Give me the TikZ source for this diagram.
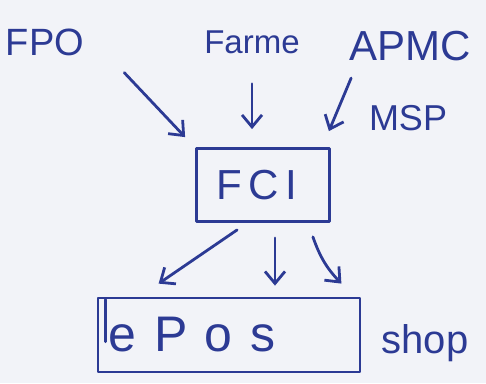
\documentclass[tikz,border=0pt]{standalone}
\usepackage{fontspec}
\setmainfont{Liberation Sans}
\usetikzlibrary{arrows.meta}
\definecolor{ink}{HTML}{2C3A94}
\definecolor{paper}{HTML}{F2F3F8}
\tikzset{
  lbl/.style={text=ink, inner sep=0pt},
  box/.style={draw=ink, line width=2.8pt, inner sep=0pt, line join=round},
  arr/.style={draw=ink, line width=2.8pt, line cap=round,
    -{Straight Barb[length=12pt,width=20pt,line width=2.8pt]}}
}
\begin{document}
\begin{tikzpicture}[x=1pt,y=-1pt]
\fill[paper] (0,0) rectangle (486,383);
\useasboundingbox (0,0) rectangle (486,383);
% labels
\node[lbl, font=\fontsize{38}{42}\selectfont] (fpo) at (45,42) {FPO};
\node[lbl, font=\fontsize{33}{36}\selectfont] (farme) at (252,42) {Farme};
\node[lbl, font=\fontsize{42}{46}\selectfont] (apmc) at (410,46) {APMC};
\node[lbl, font=\fontsize{36}{40}\selectfont] (msp) at (408,118) {MSP};
\node[lbl, font=\fontsize{40}{44}\selectfont] (shop) at (425,343) {shop};
% boxes
\node[box, minimum width=133pt, minimum height=73pt] (fci) at (263,185) {};
\node[lbl, font=\fontsize{42}{46}\selectfont\addfontfeature{LetterSpace=15}] (fcit) at ([xshift=-6pt]fci) {FCI};
\node[box, minimum width=262pt, minimum height=74pt] (epos) at (229,335) {};
\node[lbl, font=\fontsize{50}{54}\selectfont\addfontfeature{LetterSpace=35}, anchor=west] (epost) at ([xshift=12pt]epos.west) {ePos};
\draw[ink, line width=2.8pt, line cap=round] ([xshift=9pt,yshift=-3pt]epos.north west) -- ([xshift=9pt,yshift=-45pt]epos.north west);
% incoming arrows
\draw[arr] ([xshift=40pt,yshift=-17pt]fpo.south east) -- ([xshift=-10pt,yshift=10pt]fci.north west);
\draw[arr] ([yshift=-30pt]farme.south) -- ([yshift=18pt]farme.south |- fci.north);
\draw[arr] ([xshift=2pt,yshift=-17pt]apmc.south west) -- ([xshift=-2pt,yshift=16pt]fci.north east);
% outgoing arrows
\draw[arr] ([xshift=42pt,yshift=-7pt]fci.south west) -- ([xshift=62pt,yshift=13pt]epos.north west);
\draw[arr] ([xshift=12pt,yshift=-15pt]fci.south) -- ([xshift=12pt,yshift=11pt]fci.south |- epos.north);
\draw[arr] ([xshift=-18pt,yshift=-14pt]fci.south east) to[bend right=12] ([xshift=-20pt,yshift=13pt]epos.north east);
\end{tikzpicture}
\end{document}
